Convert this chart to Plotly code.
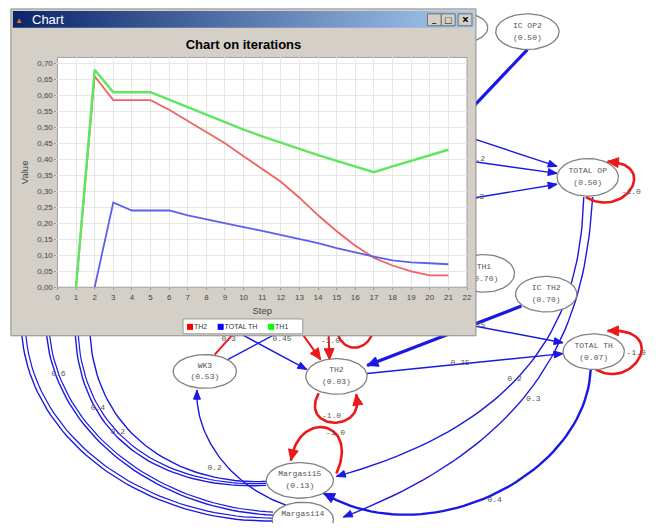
import numpy as np
import plotly.graph_objects as go

# ---------------- chart data ----------------
steps_th = list(range(1, 22))
steps_total = list(range(2, 22))
th2 = [0.0, 0.66, 0.585, 0.585, 0.585, 0.555, 0.52, 0.485, 0.45, 0.41, 0.37,
       0.33, 0.28, 0.225, 0.175, 0.13, 0.092, 0.068, 0.05, 0.037, 0.037]
total_th = [0.0, 0.265, 0.24, 0.24, 0.24, 0.225, 0.212, 0.2, 0.188, 0.176,
            0.164, 0.152, 0.138, 0.122, 0.108, 0.096, 0.084, 0.078, 0.075, 0.072]
th1 = [0.0, 0.68, 0.61, 0.61, 0.61, 0.587, 0.563, 0.54, 0.515, 0.493, 0.472,
       0.452, 0.432, 0.413, 0.395, 0.377, 0.36, 0.378, 0.395, 0.413, 0.43]
series_names = ["TH2", "TOTAL TH", "TH1"]
x_ticks = list(range(0, 23))
y_ticks = [round(0.05 * i, 2) for i in range(15)]
y_tick_text = [f"{v:.2f}".replace(".", ",") for v in y_ticks]

# ---------------- background network (graph diagram) ----------------
node_names = ["", "IC OP2", "TOTAL OP", "TH1", "IC TH2", "TOTAL TH", "TH2", "WK3", "Margasi15", "Margasi14"]
node_values = ["", "(0.50)", "(0.50)", "(0.70)", "(0.70)", "(0.07)", "(0.03)", "(0.53)", "(0.13)", ""]
node_cx = [460, 531, 592, 487, 550, 598, 338, 205, 301, 304]
node_cy = [28, 32, 179, 276, 297, 355, 380, 375, 485, 525]
node_rx = [31, 32, 31, 31, 31, 31, 31, 32, 34, 31]
node_ry = [16, 18, 19, 19, 18, 18, 18, 17, 18, 18]

BLUE = "rgb(25,25,225)"
RED = "rgb(235,25,25)"
edges = [
    dict(p=[(531, 50), (440, 146)], c=BLUE, w=3.2, a=False),
    dict(p=[(440, 128), (561, 168)], c=BLUE, w=1.4, a=True),
    dict(p=[(440, 158), (561, 175)], c=BLUE, w=1.4, a=True, t="0.2", lp=(481, 161)),
    dict(p=[(440, 206), (561, 186)], c=BLUE, w=1.4, a=True, t="0.3", lp=(480, 199)),
    dict(p=[(440, 322), (567, 346)], c=BLUE, w=1.4, a=True, t="0.15", lp=(479, 328)),
    dict(p=[(525, 309), (369, 369)], c=BLUE, w=3.2, a=True),
    dict(p=[(369, 377), (567, 357)], c=BLUE, w=1.4, a=True, t="0.25", lp=(463, 366)),
    dict(p=[(588, 199), (585, 290), (560, 420), (338, 481)], c=BLUE, w=1.4, a=True, t="0.2", lp=(518, 383)),
    dict(p=[(597, 199), (590, 310), (560, 440), (345, 522)], c=BLUE, w=1.4, a=True, t="0.3", lp=(537, 403)),
    dict(p=[(595, 373), (590, 480), (430, 560), (325, 498)], c=BLUE, w=2.4, a=True, t="0.4", lp=(498, 505)),
    dict(p=[(287, 510), (230, 490), (195, 440), (197, 394)], c=BLUE, w=1.4, a=True, t="0.2", lp=(215, 472)),
    dict(p=[(228, 363), (290, 330)], c=BLUE, w=1.4, a=False, t="0.45", lp=(283, 342)),
    dict(p=[(228, 330), (308, 373)], c=BLUE, w=1.4, a=True, t="0.3", lp=(229, 342)),
    dict(p=[(215, 358), (240, 330)], c=RED, w=2, a=False),
    dict(p=[(300, 332), (322, 363)], c=RED, w=2, a=True),
    dict(p=[(330, 335), (331, 363)], c=RED, w=2, a=True),
    dict(p=[(338, 330), (340, 358), (372, 358), (376, 330)], c=RED, w=2.4, a=False, t="-1.0", lp=(332, 344)),
    # big arcs on the left
    dict(p=[(20, 338), (30, 450), (150, 528), (274, 526)], c=BLUE, w=1.4, a=False),
    dict(p=[(24, 338), (34, 448), (152, 524), (274, 523)], c=BLUE, w=1.2, a=False),
    dict(p=[(45, 338), (55, 440), (160, 515), (274, 520)], c=BLUE, w=1.4, a=False, t="0.6", lp=(57, 378)),
    dict(p=[(48, 338), (58, 438), (162, 512), (274, 517)], c=BLUE, w=1.2, a=False),
    dict(p=[(74, 338), (80, 450), (170, 495), (267, 490)], c=BLUE, w=1.4, a=False, t="0.4", lp=(97, 412)),
    dict(p=[(77, 338), (83, 446), (172, 492), (267, 488)], c=BLUE, w=1.2, a=False),
    dict(p=[(89, 338), (95, 440), (180, 490), (267, 486)], c=BLUE, w=1.4, a=False, t="0.2", lp=(117, 436)),
    # self loops
    dict(p=[(590, 199), (630, 222), (665, 165), (612, 163)], c=RED, w=2.6, a=True, t="-1.0", lp=(636, 194)),
    dict(p=[(600, 373), (640, 395), (675, 330), (612, 334)], c=RED, w=2.6, a=True, t="-1.0", lp=(641, 356)),
    dict(p=[(320, 397), (300, 435), (368, 438), (358, 398)], c=RED, w=2.6, a=True, t="-1.0", lp=(333, 420)),
    dict(p=[(338, 478), (362, 425), (300, 412), (292, 465)], c=RED, w=2.6, a=True, t="-1.0", lp=(337, 437)),
]


def bez(p, n=50):
    t = np.linspace(0, 1, n)
    if len(p) == 2:
        (x0, y0), (x1, y1) = p
        return x0 + (x1 - x0) * t, y0 + (y1 - y0) * t
    (x0, y0), (x1, y1), (x2, y2), (x3, y3) = p
    a = (1 - t) ** 3
    b = 3 * t * (1 - t) ** 2
    c = 3 * t ** 2 * (1 - t)
    d = t ** 3
    return a * x0 + b * x1 + c * x2 + d * x3, a * y0 + b * y1 + c * y2 + d * y3


def head(xs, ys, L, W):
    tx, ty = xs[-1], ys[-1]
    px, py = xs[-4], ys[-4]
    dx, dy = tx - px, ty - py
    n = np.hypot(dx, dy)
    ux, uy = dx / n, dy / n
    bx, by = tx - ux * L, ty - uy * L
    return [tx, bx - uy * W, bx + uy * W, tx], [ty, by + ux * W, by - ux * W, ty]


fig = go.Figure()
BG = dict(xaxis="x", yaxis="y", hoverinfo="skip", showlegend=False)

for e in edges:
    xs, ys = bez(e["p"])
    fig.add_trace(go.Scatter(x=xs, y=ys, mode="lines", line=dict(color=e["c"], width=e["w"]), **BG))
    if e["a"]:
        L = 9 if e["w"] < 2 else 11
        W = 3.5 if e["w"] < 2 else 5
        hx, hy = head(xs, ys, L, W)
        fig.add_trace(go.Scatter(x=hx, y=hy, mode="lines", fill="toself", fillcolor=e["c"],
                                 line=dict(color=e["c"], width=1), **BG))

th = np.linspace(0, 2 * np.pi, 80)
for cx, cy, rx, ry in zip(node_cx, node_cy, node_rx, node_ry):
    fig.add_trace(go.Scatter(x=cx + rx * np.cos(th), y=cy + ry * np.sin(th), mode="lines",
                             fill="toself", fillcolor="white", line=dict(color="#808080", width=1.3), **BG))

tx_, ty_, tt_ = [], [], []
for nm, v, cx, cy in zip(node_names, node_values, node_cx, node_cy):
    if nm:
        tx_.append(cx); ty_.append(cy - 6); tt_.append(nm)
    if v:
        tx_.append(cx); ty_.append(cy + 6); tt_.append(v)
fig.add_trace(go.Scatter(x=tx_, y=ty_, text=tt_, mode="text",
                         textfont=dict(family="Liberation Mono", size=8, color="#555"), **BG))

lab = [e for e in edges if "t" in e]
fig.add_trace(go.Scatter(x=[e["lp"][0] for e in lab], y=[e["lp"][1] for e in lab],
                         text=[e["t"] for e in lab], mode="text",
                         textfont=dict(family="Liberation Mono", size=8, color="#555"), **BG))

# ---------------- the chart window ----------------
def rect(x0, y0, x1, y1, fill, line="rgba(0,0,0,0)", lw=1):
    fig.add_trace(go.Scatter(x=[x0, x1, x1, x0, x0], y=[y0, y0, y1, y1, y0], mode="lines",
                             fill="toself", fillcolor=fill, line=dict(color=line, width=lw), **BG))

rect(9, 9, 479, 339, "#D4D0C8", "#8c8c8c", 1)
fig.add_trace(go.Scatter(x=[11, 477, 477, 11, 11], y=[11, 11, 28, 28, 11], mode="lines", fill="toself",
                         fillgradient=dict(type="horizontal", colorscale=[[0, "#0A246A"], [1, "#A6CAF0"]]),
                         line=dict(color="rgba(0,0,0,0)", width=0), **BG))
for bx0 in [430, 444, 461]:
    rect(bx0, 14, bx0 + 14, 26, "#D4D0C8", "#6e6e6e", 1)
rect(56, 58, 470, 290, "white", "#A0A0A0", 1)
# legend box
rect(183, 322, 304, 337, "white", "#9a9a9a", 1)
leg_colors = ["#FF0000", "#0000FF", "#00FF00"]
leg_x = [190, 221, 272]
fig.add_trace(go.Scatter(x=leg_x, y=[330] * 3, mode="markers",
                         marker=dict(symbol="square", size=6, color=leg_colors), **BG))
fig.add_trace(go.Scatter(x=[x + 4 for x in leg_x], y=[330.5] * 3, text=series_names, mode="text",
                         textposition="middle right",
                         textfont=dict(family="Liberation Sans", size=7, color="#333"), **BG))

# ---------------- chart series ----------------
fig.add_trace(go.Scatter(x=steps_th, y=th2, mode="lines", name="TH2",
                         line=dict(color="rgb(238,100,100)", width=1.8), xaxis="x2", yaxis="y2", showlegend=False))
fig.add_trace(go.Scatter(x=steps_total, y=total_th, mode="lines", name="TOTAL TH",
                         line=dict(color="rgb(95,95,235)", width=1.8), xaxis="x2", yaxis="y2", showlegend=False))
fig.add_trace(go.Scatter(x=steps_th, y=th1, mode="lines", name="TH1",
                         line=dict(color="rgb(95,230,95)", width=2.4), xaxis="x2", yaxis="y2", showlegend=False))

W, H = 662, 528
axfont = dict(family="Liberation Sans", size=8, color="#444")
fig.update_layout(
    width=W, height=H, margin=dict(l=0, r=0, t=0, b=0),
    paper_bgcolor="white", plot_bgcolor="rgba(0,0,0,0)",
    showlegend=False,
    title=dict(text="<b>Chart on iterations</b>", x=243.5 / W, xanchor="center", y=1 - 44 / H, yanchor="middle",
               font=dict(family="Liberation Sans", size=13, color="black")),
    xaxis=dict(domain=[0, 1], range=[0, W], visible=False, fixedrange=True),
    yaxis=dict(domain=[0, 1], range=[H, 0], visible=False, fixedrange=True),
    xaxis2=dict(domain=[56 / W, 470 / W], anchor="y2", range=[0, 22], tickvals=x_ticks,
                ticks="outside", ticklen=2, tickcolor="#999", showgrid=True, gridcolor="#E6E6E6",
                showline=False, zeroline=False, tickfont=axfont,
                title=dict(text="Step", font=dict(family="Liberation Sans", size=9.5, color="#444"), standoff=6)),
    yaxis2=dict(domain=[1 - 290 / H, 1 - 58 / H], anchor="x2", range=[0, 0.7186], tickvals=y_ticks,
                ticktext=y_tick_text, ticks="outside", ticklen=2, tickcolor="#999", showgrid=True,
                gridcolor="#E6E6E6", showline=False, zeroline=False, tickfont=axfont,
                title=dict(text="Value", font=dict(family="Liberation Sans", size=9.5, color="#444"), standoff=6)),
    annotations=[
        dict(text="Chart", x=28, y=20, xref="x", yref="y", xanchor="left", yanchor="middle", showarrow=False,
             font=dict(family="Liberation Sans", size=13, color="white")),
        dict(text="▲", x=17, y=20, xref="x", yref="y", showarrow=False, font=dict(size=8, color="#E07020")),
        dict(text="<b>_</b>", x=437, y=18, xref="x", yref="y", showarrow=False, font=dict(size=10, color="black")),
        dict(text="□", x=451, y=20, xref="x", yref="y", showarrow=False, font=dict(size=11, color="black")),
        dict(text="<b>×</b>", x=468, y=20, xref="x", yref="y", showarrow=False, font=dict(size=12, color="black")),
    ],
)

fig.write_html("out.html", config={"displayModeBar": False},
               post_script="document.body.style.margin='0';")
